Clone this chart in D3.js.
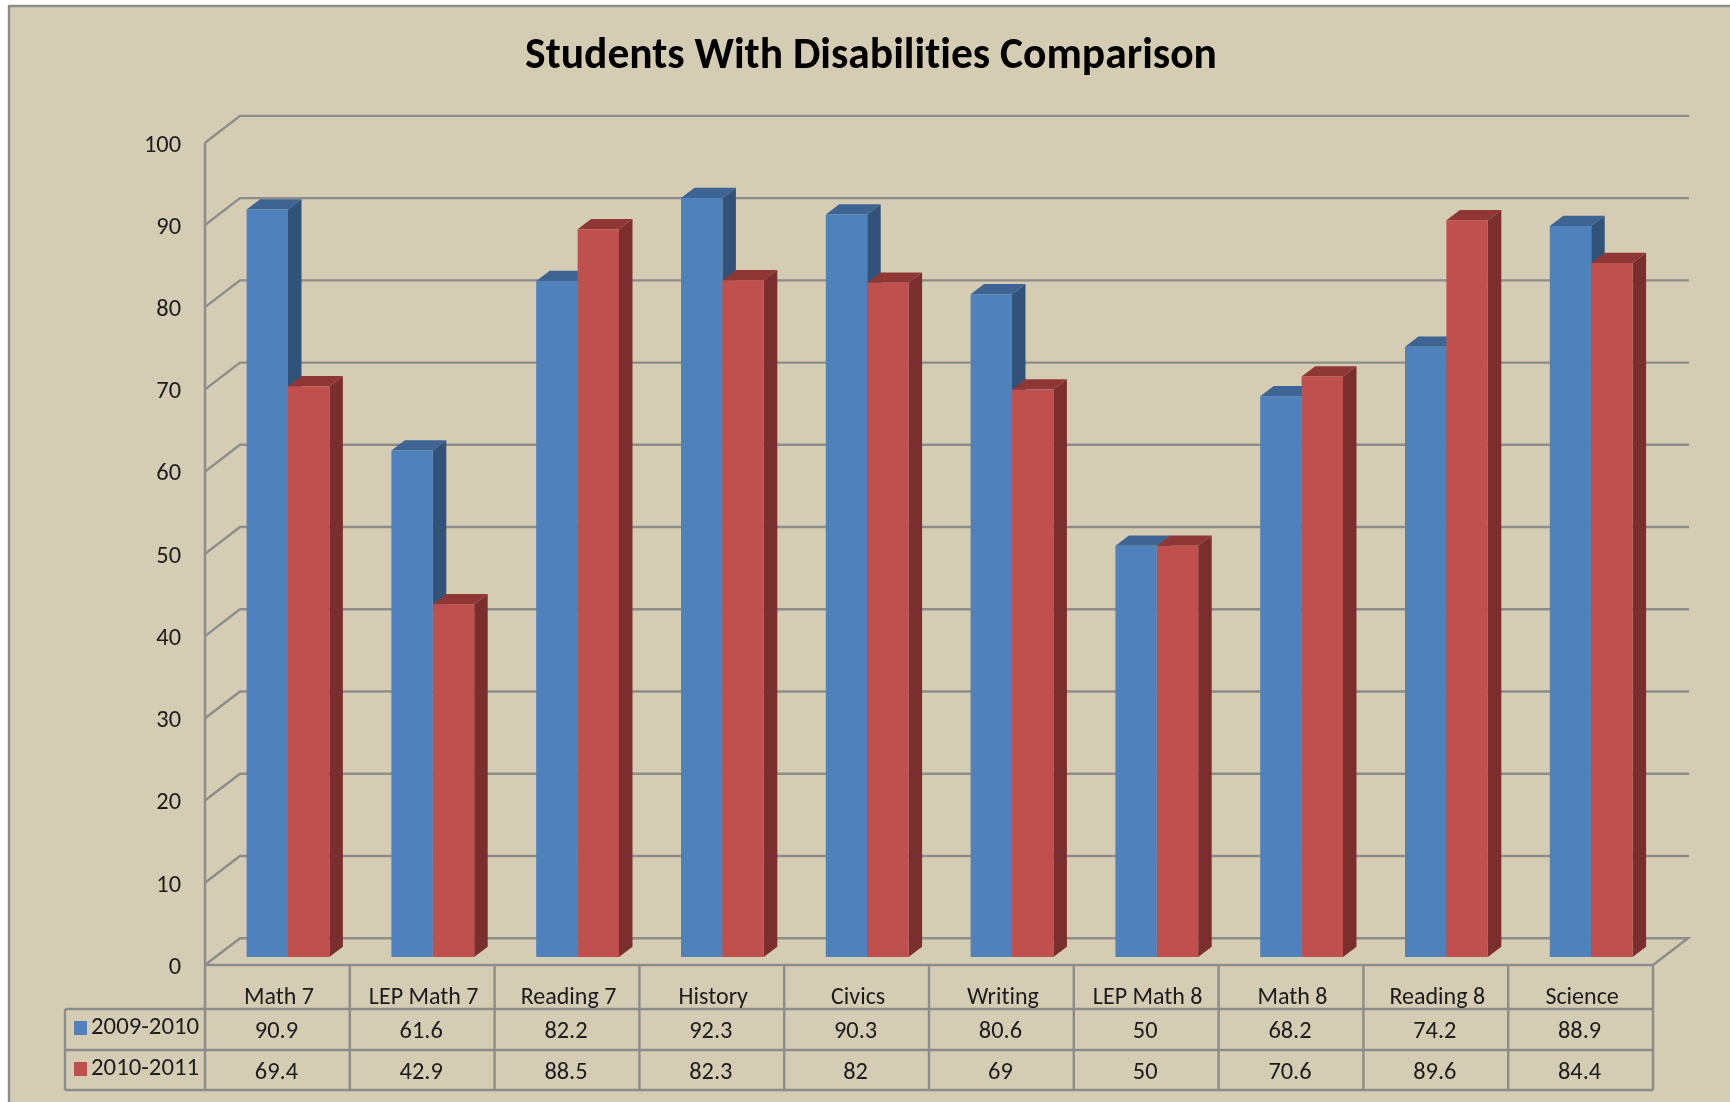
<!DOCTYPE html>
<html><head><meta charset="utf-8">
<script src="https://cdn.jsdelivr.net/npm/d3@7/dist/d3.min.js"></script>
<style>
html,body{margin:0;padding:0;background:#fff}
svg{display:block;filter:blur(0.5px)}
text{font-family:Carlito,Lato,"Noto Sans",sans-serif;fill:#1c1c1c;font-variant-ligatures:none}
</style></head><body>
<svg id="c" width="1730" height="1102"></svg>
<script>
const title = "Students With Disabilities Comparison";
const categories = ["Math 7","LEP Math 7","Reading 7","History","Civics","Writing","LEP Math 8","Math 8","Reading 8","Science"];
const seriesNames = ["2009-2010","2010-2011"];
const values2009 = [90.9,61.6,82.2,92.3,90.3,80.6,50,68.2,74.2,88.9];
const values2010 = [69.4,42.9,88.5,82.3,82,69,50,70.6,89.6,84.4];
const yTicks = [0,10,20,30,40,50,60,70,80,90,100];
const frontColors = ["#4f81bd","#c0504d"];
const sideColors = ["#325279","#7a2f2e"];
const topColors = ["#3d6493","#8e3735"];
const bg = "#d4cdb3", line = "#8c8c8c";

const svg = d3.select("#c");
const seriesValues = [values2009, values2010];

// plot geometry
const left = 205, right = 1653, base = 965, top100 = 142.7;
const wallDX = 35, wallDY = -26.8;      // depth of chart box
const barDX = 13.5, barDY = -10.3;      // depth of a bar
const barLift = 8;                      // bars sit a little behind the front edge

const x = d3.scaleBand().domain(categories).range([left, right]);
const xSeries = d3.scaleBand().domain(seriesNames).range([41.6, 124.4]);
const y = d3.scaleLinear().domain([0, 100]).range([base, top100]);

// frame
svg.append("rect").attr("x", 9).attr("y", 6).attr("width", 1730).attr("height", 1200)
  .attr("fill", bg).attr("stroke", line).attr("stroke-width", 2.4);

// title
svg.append("text").attr("x", 871).attr("y", 67.5).attr("text-anchor", "middle")
  .attr("font-size", 43.5).attr("font-weight", 700).style("fill", "#000").text(title);

// gridlines and wall
const grid = svg.append("g").attr("fill", "none").attr("stroke", line).attr("stroke-width", 2.4);
grid.selectAll("polyline.g").data(yTicks.filter(t => t > 0)).join("polyline").attr("class", "g")
  .attr("points", t => `${left},${y(t)} ${left + wallDX},${y(t) + wallDY} ${right + wallDX + 1},${y(t) + wallDY}`);
grid.append("line").attr("x1", left).attr("x2", left).attr("y1", y(100)).attr("y2", y(0));
// floor
grid.append("polyline").attr("points",
  `${left},${y(0)} ${left + wallDX},${y(0) + wallDY} ${right + wallDX},${y(0) + wallDY} ${right},${y(0)}`);

// axis labels
const axis = d3.axisLeft(y).tickValues(yTicks).tickSize(0).tickPadding(0);
const axG = svg.append("g").attr("transform", `translate(181,0.5)`).call(axis);
axG.select(".domain").remove();
axG.attr("font-family", null);
axG.selectAll("text").attr("font-size", 24.4).style("fill", "#1c1c1c");

// 3D bars
const bars = svg.append("g");
categories.forEach((c, i) => {
  seriesNames.forEach((s, j) => {
    const v = seriesValues[j][i];
    const x0 = x(c) + xSeries(s), w = xSeries.bandwidth();
    const yb = y(0) - barLift;
    const g = bars.append("g");
    const topY = yb - (y(0) - y(v));
    g.append("path").attr("fill", sideColors[j]).attr("d",
      `M${x0 + w},${topY}L${x0 + w + barDX},${topY + barDY}L${x0 + w + barDX},${yb + barDY}L${x0 + w},${yb}Z`);
    g.append("path").attr("fill", topColors[j]).attr("d",
      `M${x0},${topY}L${x0 + barDX},${topY + barDY}L${x0 + w + barDX},${topY + barDY}L${x0 + w},${topY}Z`);
    g.append("rect").attr("fill", frontColors[j]).attr("x", x0).attr("y", topY).attr("width", w).attr("height", yb - topY);
  });
});

// data table
const rowY = [965, 1009, 1050, 1090], tableLeft = 65;
const t = svg.append("g").attr("stroke", line).attr("stroke-width", 2.4).attr("fill", "none");
t.append("line").attr("x1", left).attr("x2", right).attr("y1", rowY[0]).attr("y2", rowY[0]);
rowY.slice(1).forEach(ry => t.append("line").attr("x1", tableLeft).attr("x2", right).attr("y1", ry).attr("y2", ry));
t.append("line").attr("x1", tableLeft).attr("x2", tableLeft).attr("y1", rowY[1]).attr("y2", rowY[3]);
d3.range(categories.length + 1).forEach(i => {
  const xx = i < categories.length ? x(categories[i]) : right;
  t.append("line").attr("x1", xx).attr("x2", xx).attr("y1", rowY[0]).attr("y2", rowY[3]);
});

const cellCenter = c => x(c) + x.bandwidth() / 2;
svg.append("g").selectAll("text").data(categories).join("text")
  .attr("x", c => cellCenter(c) + 1.5).attr("y", 1004).attr("text-anchor", "middle").attr("font-size", 24).text(d => d);
[1038, 1079].forEach((by, j) => {
  svg.append("g").selectAll("text").data(seriesValues[j]).join("text")
    .attr("x", (d, i) => cellCenter(categories[i]) - 1).attr("y", by).attr("text-anchor", "middle")
    .attr("font-size", 24.4).text(d => d);
  svg.append("rect").attr("x", 74).attr("y", by - 17).attr("width", 13).attr("height", 14).attr("fill", frontColors[j]);
  svg.append("text").attr("x", 91).attr("y", by - 4).attr("font-size", 24.8).text(seriesNames[j]);
});
</script>
</body></html>
